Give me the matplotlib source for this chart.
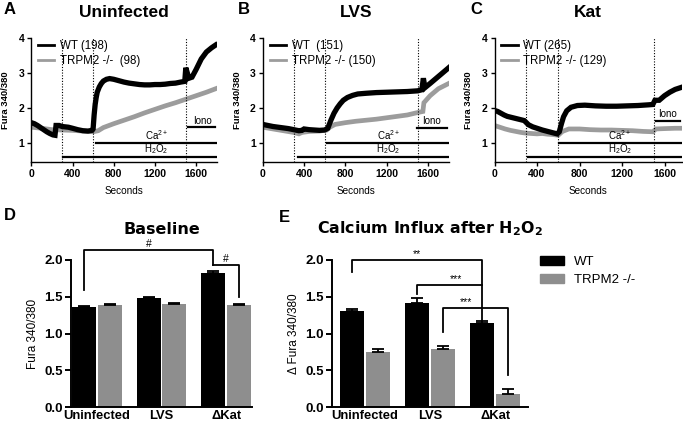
import matplotlib
matplotlib.use("Agg")
import matplotlib.pyplot as plt
from matplotlib.patches import Patch

plt.rcParams['font.family'] = ['Liberation Sans', 'DejaVu Sans']
plt.rcParams['mathtext.default'] = 'regular'

# ---- traces (seconds, Fura 340/380) ----
a_wt_t = [0, 30, 60, 90, 120, 150, 180, 210, 230, 240, 270, 300, 330, 360, 400, 450, 500, 550, 590,
          600, 610, 620, 630, 640, 660, 680, 700, 730, 760, 800, 850, 900, 950, 1000, 1050, 1100,
          1150, 1200, 1250, 1300, 1350, 1400, 1450, 1490, 1500, 1510, 1530, 1560, 1600, 1650,
          1700, 1750, 1790]
a_wt = [1.58, 1.55, 1.50, 1.44, 1.38, 1.32, 1.27, 1.23, 1.22, 1.50, 1.50, 1.47, 1.46, 1.45, 1.42,
        1.38, 1.35, 1.34, 1.36, 1.40, 1.80, 2.10, 2.30, 2.45, 2.60, 2.70, 2.77, 2.82, 2.84, 2.82,
        2.78, 2.74, 2.71, 2.69, 2.67, 2.66, 2.66, 2.67, 2.67, 2.68, 2.70, 2.71, 2.74, 2.76, 3.15,
        3.05, 2.85, 2.88, 3.10, 3.40, 3.60, 3.72, 3.80]
a_ko_t = [0, 100, 200, 300, 400, 500, 600, 650, 700, 800, 900, 1000, 1100, 1200, 1300, 1400,
          1500, 1600, 1700, 1790]
a_ko = [1.45, 1.42, 1.38, 1.37, 1.36, 1.34, 1.32, 1.35, 1.44, 1.55, 1.65, 1.75, 1.86, 1.96, 2.06,
        2.15, 2.25, 2.35, 2.45, 2.55]

b_wt_t = [0, 50, 100, 150, 200, 250, 300, 350, 380, 400, 450, 500, 550, 600, 630, 660, 690, 720,
          750, 780, 820, 870, 920, 1000, 1100, 1200, 1300, 1400, 1500, 1540, 1555, 1570, 1620,
          1680, 1740, 1800]
b_wt = [1.53, 1.50, 1.47, 1.45, 1.43, 1.41, 1.38, 1.35, 1.36, 1.40, 1.38, 1.37, 1.36, 1.37, 1.42,
        1.65, 1.85, 2.00, 2.12, 2.22, 2.30, 2.36, 2.40, 2.42, 2.44, 2.45, 2.46, 2.47, 2.49, 2.52,
        2.85, 2.58, 2.70, 2.85, 3.00, 3.15]
b_ko_t = [0, 100, 200, 300, 350, 380, 450, 550, 620, 650, 700, 800, 900, 1000, 1100, 1200, 1300,
          1400, 1500, 1550, 1560, 1620, 1700, 1800]
b_ko = [1.45, 1.40, 1.35, 1.30, 1.26, 1.30, 1.33, 1.34, 1.37, 1.45, 1.53, 1.58, 1.62, 1.65, 1.68,
        1.72, 1.76, 1.80, 1.87, 1.90, 2.15, 2.35, 2.55, 2.70]

c_wt_t = [0, 30, 60, 90, 120, 160, 200, 240, 280, 300, 320, 360, 400, 450, 500, 550, 590, 610,
          630, 650, 680, 720, 780, 850, 950, 1050, 1150, 1250, 1350, 1450, 1490, 1510, 1550,
          1600, 1650, 1700, 1750]
c_wt = [1.93, 1.90, 1.85, 1.80, 1.76, 1.73, 1.70, 1.67, 1.64, 1.58, 1.52, 1.46, 1.42, 1.37, 1.33,
        1.29, 1.26, 1.32, 1.55, 1.75, 1.92, 2.02, 2.07, 2.08, 2.06, 2.05, 2.05, 2.06, 2.07, 2.09,
        2.10, 2.22, 2.22, 2.35, 2.45, 2.53, 2.58]
c_ko_t = [0, 50, 100, 150, 200, 250, 300, 350, 400, 450, 500, 550, 600, 640, 700, 800, 900, 1000,
          1100, 1200, 1300, 1400, 1490, 1520, 1600, 1700, 1750]
c_ko = [1.50, 1.45, 1.40, 1.36, 1.33, 1.30, 1.28, 1.27, 1.26, 1.27, 1.25, 1.24, 1.22, 1.33, 1.40,
        1.40, 1.38, 1.37, 1.37, 1.36, 1.35, 1.33, 1.32, 1.40, 1.41, 1.42, 1.42]

# ---- bar panels ----
groups = ['Uninfected', 'LVS', '\u0394Kat']
base_wt = [1.36, 1.48, 1.82]
base_wt_err = [0.01, 0.015, 0.025]
base_ko = [1.39, 1.40, 1.39]
base_ko_err = [0.01, 0.01, 0.01]
influx_wt = [1.31, 1.42, 1.14]
influx_wt_err = [0.03, 0.06, 0.03]
influx_ko = [0.75, 0.79, 0.18]
influx_ko_err = [0.04, 0.04, 0.07]

BLACK = '#000000'
GREY_TRACE = '#9c9c9c'
GREY_BAR = '#8e8e8e'

fig = plt.figure(figsize=(6.83, 4.25), dpi=100)
W, H = 683.0, 425.0


def axes_px(left, top, width, height):
    return fig.add_axes([left / W, 1 - (top + height) / H, width / W, height / H])


def trace_panel(ax, wt_t, wt, ko_t, ko, labels, xmax, title, prot):
    ax.plot(ko_t, ko, color=GREY_TRACE, lw=3.4, solid_joinstyle='miter')
    ax.plot(wt_t, wt, color=BLACK, lw=3.8, solid_joinstyle='miter')
    for x in (300, 600, 1500):
        ax.axvline(x, color='black', lw=0.8, ls=(0, (1, 1.5)))
    # protocol bars
    ax.plot([prot['h2o2'], prot['end']], [0.6, 0.6], color='black', lw=1.6)
    ax.plot([prot['ca'], prot['end']], [1.0, 1.0], color='black', lw=1.6)
    ax.plot([prot['iono'], prot['end'] - 10], [prot['iono_y'], prot['iono_y']], color='black', lw=1.6)
    ax.text(prot['txt'], 0.63, 'H$_2$O$_2$', ha='center', va='bottom', fontsize=7)
    ax.text(prot['txt'], 1.03, 'Ca$^{2+}$', ha='center', va='bottom', fontsize=7)
    ax.text(prot['iono_txt'], prot['iono_y'] + 0.04, 'Iono', ha='center', va='bottom', fontsize=7)
    ax.set_xlim(0, xmax)
    ax.set_ylim(0.45, 4.0)
    ax.set_xticks([0, 400, 800, 1200, 1600])
    ax.set_yticks([1, 2, 3, 4])
    for s in ('top', 'right'):
        ax.spines[s].set_visible(False)
    for s in ('left', 'bottom'):
        ax.spines[s].set_linewidth(1.0)
    ax.tick_params(length=3, width=1.0, pad=2, labelsize=7.5)
    for lab in ax.get_xticklabels() + ax.get_yticklabels():
        lab.set_fontweight('bold')
    ax.set_xlabel('Seconds', fontsize=7.2, labelpad=5)
    ax.set_ylabel('Fura 340/380', fontsize=6.8, fontweight='bold', labelpad=6)
    h1, = ax.plot([], [], color=BLACK, lw=2)
    h2, = ax.plot([], [], color=GREY_TRACE, lw=2)
    ax.legend([h1, h2], labels, loc='upper left', bbox_to_anchor=(0.0, 1.04), frameon=False,
              fontsize=8.3, handlelength=1.4, handletextpad=0.5, labelspacing=0.25,
              borderaxespad=0.2)
    ax.set_title(title, fontsize=12.5, fontweight='bold', pad=15)


ax_a = axes_px(31.3, 38, 185.4, 124.2)
ax_b = axes_px(262.7, 38, 186, 124.2)
ax_c = axes_px(494.5, 38, 187, 124.2)

trace_panel(ax_a, a_wt_t, a_wt, a_ko_t, a_ko, ['WT (198)', 'TRPM2 -/-  (98)'], 1800, 'Uninfected',
            dict(h2o2=304, ca=627, iono=1520, end=1790, iono_y=1.45, txt=1215, iono_txt=1665))
trace_panel(ax_b, b_wt_t, b_wt, b_ko_t, b_ko, ['WT  (151)', 'TRPM2 -/- (150)'], 1800, 'LVS',
            dict(h2o2=340, ca=627, iono=1490, end=1790, iono_y=1.44, txt=1215, iono_txt=1630))
trace_panel(ax_c, c_wt_t, c_wt, c_ko_t, c_ko, ['WT (265)', 'TRPM2 -/- (129)'], 1760, 'Kat',
            dict(h2o2=312, ca=608, iono=1520, end=1755, iono_y=1.64, txt=1180, iono_txt=1630))

for x, s in ((4, 'A'), (238, 'B'), (470, 'C')):
    fig.text(x / W, 1 - 9 / H, s, fontsize=12, fontweight='bold', va='center')


def bar_panel(ax, wt, wt_err, ko, ko_err, xlim, ylabel):
    xs = range(len(groups))
    ax.bar([x - 0.2 for x in xs], wt, width=0.37, color=BLACK,
           yerr=[[0] * 3, wt_err], capsize=4, error_kw=dict(lw=1.3, capthick=1.3, ecolor='black'))
    ax.bar([x + 0.2 for x in xs], ko, width=0.37, color=GREY_BAR,
           yerr=[[0] * 3, ko_err], capsize=4, error_kw=dict(lw=1.3, capthick=1.3, ecolor='black'))
    ax.set_xlim(*xlim)
    ax.set_ylim(0, 2.0)
    ax.set_yticks([0, 0.5, 1.0, 1.5, 2.0])
    ax.set_yticklabels(['0.0', '0.5', '1.0', '1.5', '2.0'])
    ax.set_xticks(list(xs))
    ax.set_xticklabels(groups)
    for s in ('top', 'right'):
        ax.spines[s].set_visible(False)
    for s in ('left', 'bottom'):
        ax.spines[s].set_linewidth(1.4)
    ax.tick_params(axis='y', length=4, width=1.4, pad=2, labelsize=9.5)
    ax.tick_params(axis='x', length=0, pad=2.2, labelsize=9.4)
    for lab in ax.get_xticklabels() + ax.get_yticklabels():
        lab.set_fontweight('bold')
    ax.set_ylabel(ylabel, fontsize=8.5, labelpad=4)


def bracket(ax, x1, y1, x2, y2, top, label=None, lx=None, ly=None):
    ax.plot([x1, x1, x2, x2], [y1, top, top, y2], color='black', lw=1.3, clip_on=False)
    if label:
        ax.text(lx, ly, label, ha='center', va='bottom', fontsize=7.5, clip_on=False)


ax_d = axes_px(71, 260, 181, 147)
bar_panel(ax_d, base_wt, base_wt_err, base_ko, base_ko_err, (-0.4, 2.4), 'Fura 340/380')
bracket(ax_d, -0.2, 1.59, 1.8, 1.93, 2.14, '#', 0.8, 2.155)
bracket(ax_d, 1.8, 1.93, 2.2, 1.50, 1.93, '#', 2.0, 1.945)
ax_d.set_title('Baseline', fontsize=11.5, fontweight='bold', family='DejaVu Sans', pad=19)

ax_e = axes_px(332, 260, 196, 147)
bar_panel(ax_e, influx_wt, influx_wt_err, influx_ko, influx_ko_err, (-0.5, 2.5),
          '\u0394 Fura 340/380')
bracket(ax_e, -0.2, 1.84, 1.8, 1.17, 2.0, '**', 0.8, 2.01)
bracket(ax_e, 0.8, 1.54, 1.8, 1.66, 1.66, '***', 1.4, 1.67)
bracket(ax_e, 1.2, 1.02, 2.2, 0.44, 1.35, '***', 1.55, 1.36)
ax_e.set_title('Calcium Influx after H$_2$O$_2$', fontsize=11.4, fontweight='bold',
               family='DejaVu Sans', pad=19)

fig.text(4 / W, 1 - 215 / H, 'D', fontsize=12, fontweight='bold', va='center')
fig.text(279 / W, 1 - 217 / H, 'E', fontsize=12, fontweight='bold', va='center')

fig.legend([Patch(color=BLACK), Patch(color=GREY_BAR)], ['WT', 'TRPM2 -/-'],
           loc='upper left', bbox_to_anchor=(528 / W, 1 - 244 / H), frameon=False,
           fontsize=9.5, handlelength=1.8, handleheight=0.7, handletextpad=0.8,
           labelspacing=0.45)

fig.savefig('out.png', dpi=100)
